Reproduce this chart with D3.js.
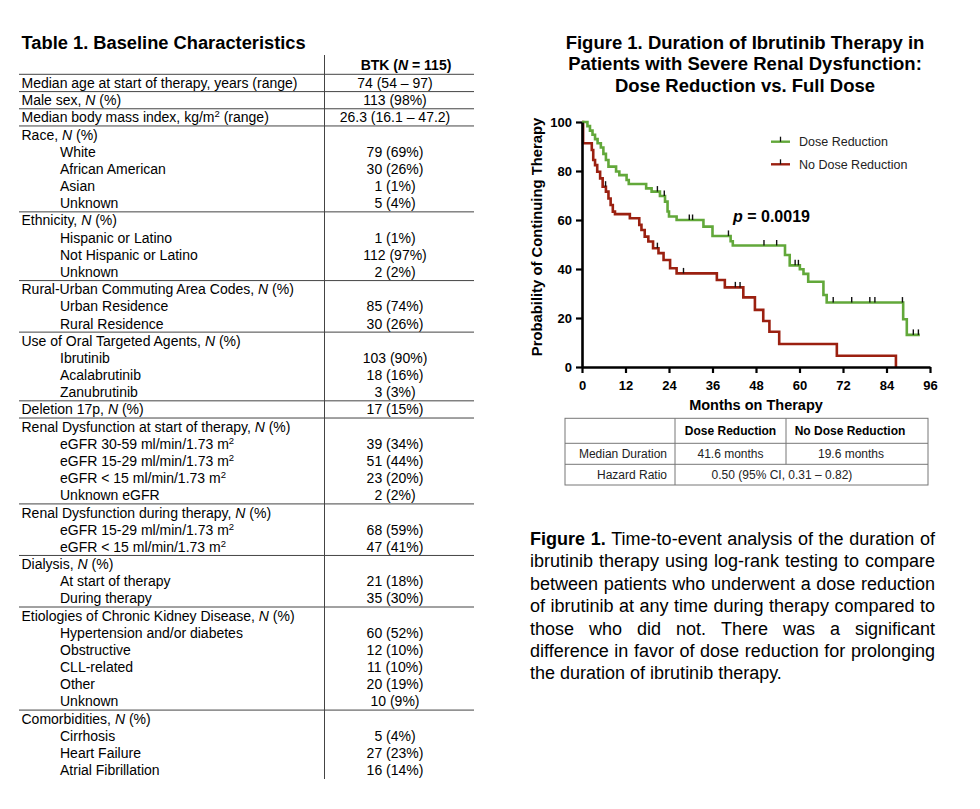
<!DOCTYPE html>
<html><head><meta charset="utf-8">
<script src="https://cdn.jsdelivr.net/npm/d3@7"></script>
<style>
body{margin:0;background:#fff}
svg{display:block;font-family:"Liberation Sans",Arial,Helvetica,sans-serif}
</style>
</head><body>
<svg id="c" width="980" height="809"></svg>
<script>
// ---------- DATA ----------
const tableTitle = "Table 1. Baseline Characteristics";
const tableHeader = "BTK (*N* = 115)";
const rowLabels = [
"Median age at start of therapy, years (range)",
"Male sex, *N* (%)",
"Median body mass index, kg/m^2 (range)",
"Race, *N* (%)",
"White","African American","Asian","Unknown",
"Ethnicity, *N* (%)",
"Hispanic or Latino","Not Hispanic or Latino","Unknown",
"Rural-Urban Commuting Area Codes, *N* (%)",
"Urban Residence","Rural Residence",
"Use of Oral Targeted Agents, *N* (%)",
"Ibrutinib","Acalabrutinib","Zanubrutinib",
"Deletion 17p, *N* (%)",
"Renal Dysfunction at start of therapy, *N* (%)",
"eGFR 30-59 ml/min/1.73 m^2","eGFR 15-29 ml/min/1.73 m^2","eGFR < 15 ml/min/1.73 m^2","Unknown eGFR",
"Renal Dysfunction during therapy, *N* (%)",
"eGFR 15-29 ml/min/1.73 m^2","eGFR < 15 ml/min/1.73 m^2",
"Dialysis, *N* (%)",
"At start of therapy","During therapy",
"Etiologies of Chronic Kidney Disease, *N* (%)",
"Hypertension and/or diabetes","Obstructive","CLL-related","Other","Unknown",
"Comorbidities, *N* (%)",
"Cirrhosis","Heart Failure","Atrial Fibrillation"
];
const rowValues = ["74 (54 – 97)","113 (98%)","26.3 (16.1 – 47.2)","","79 (69%)","30 (26%)","1 (1%)","5 (4%)",
"","1 (1%)","112 (97%)","2 (2%)","","85 (74%)","30 (26%)","","103 (90%)","18 (16%)","3 (3%)","17 (15%)",
"","39 (34%)","51 (44%)","23 (20%)","2 (2%)","","68 (59%)","47 (41%)","","21 (18%)","35 (30%)",
"","60 (52%)","12 (10%)","11 (10%)","20 (19%)","10 (9%)","","5 (4%)","27 (23%)","16 (14%)"];
const rowLevel = [0,0,0,0,1,1,1,1,0,1,1,1,0,1,1,0,1,1,1,0,0,1,1,1,1,0,1,1,0,1,1,0,1,1,1,1,1,0,1,1,1];
const ruleAfterRows = [0,1,2,7,11,14,18,19,24,27,30,36];

const figTitleLines = ["Figure 1. Duration of Ibrutinib Therapy in",
  "Patients with Severe Renal Dysfunction:",
  "Dose Reduction vs. Full Dose"];

const seriesNames = ["Dose Reduction","No Dose Reduction"];
const seriesColors = ["#62a83a","#9b2010"];
// Dose Reduction: step times (months) and survival (%) after each step
const drMonths   = [0,1.5,2.2,2.9,3.6,4.3,5.2,5.9,6.6,7.3,9.4,10.3,12.3,12.9,17.7,19.2,21.5,22.9,23.6,24.0,26.1,33.5,36.0,41.0,41.6,56.0,57.3,60.1,61.1,62.4,66.6,67.5,88.6,89.6,93.2];
const drSurvival = [100,98.3,96.5,94.8,93.0,91.3,89.6,87.0,84.5,81.8,79.8,78.3,76.3,74.7,72.9,71.6,69.8,67.5,63.5,61.4,60.0,57.3,53.5,51.3,49.6,45.7,41.5,39.9,38.0,34.8,29.4,26.3,19.5,13.1,13.1];
const drCensored = [20.8,22.7,29.6,30.5,40.4,50.2,53.7,58.8,59.7,69.3,74.4,79.4,80.8,88.4,91.4,92.8];
// No Dose Reduction
const ndrMonths   = [0,0.3,2.7,3.1,3.6,4.2,5.0,5.7,6.6,7.3,7.9,8.5,9.1,13.2,15.8,16.4,17.3,18.3,19.6,21.1,22.5,24.3,26.1,37.2,39.4,44.5,47.7,50.0,51.7,54.4,70.3,86.6];
const ndrSurvival = [100,91.3,88.6,84.5,82.4,79.7,77.0,73.6,71.6,68.8,66.1,63.4,62.4,60.7,58.0,55.9,53.2,51.2,48.5,46.5,43.7,40.3,38.2,35.5,32.5,28.4,23.3,18.8,14.4,9.4,4.6,0];
const ndrCensored = [6.5,20.8,28.0,42.3,43.6];

const xTicks = [0,12,24,36,48,60,72,84,96];
const yTicks = [0,20,40,60,80,100];
const xTitle = "Months on Therapy";
const yTitle = "Probability of Continuing Therapy";
const pText = "= 0.0019";

const statCols = ["","Dose Reduction","No Dose Reduction"];
const statRow1 = ["Median Duration","41.6 months","19.6 months"];
const statRow2 = ["Hazard Ratio","0.50 (95% CI, 0.31 – 0.82)"];

const captionLines = [
"Figure 1. Time-to-event analysis of the duration of",
"ibrutinib therapy using log-rank testing to compare",
"between patients who underwent a dose reduction",
"of ibrutinib at any time during therapy compared to",
"those who did not. There was a significant",
"difference in favor of dose reduction for prolonging",
"the duration of ibrutinib therapy."];
const captionBoldWords = 2;

// ---------- DRAW ----------
const svg = d3.select("#c");
const FONT = '"Liberation Sans",Arial,Helvetica,sans-serif';

function richText(sel, str, supSize){
  const parts = str.split(/(\*[^*]+\*|\^\d)/).filter(p=>p!=="");
  let pendingDy = 0;
  parts.forEach(p=>{
    let ts;
    if(p[0]==="*"){ ts = sel.append("tspan").style("font-style","italic").text(p.slice(1,-1)); }
    else if(p[0]==="^"){ ts = sel.append("tspan").style("font-size",supSize+"px").text(p.slice(1)); pendingDy -= 5; }
    else ts = sel.append("tspan").text(p);
    if(pendingDy!==0){ ts.attr("dy",pendingDy); pendingDy = (p[0]==="^") ? 5 : 0; }
  });
}

// Table
svg.append("text").attr("x",21.5).attr("y",48.5).style("font-size","18.3px").style("font-weight","bold").text(tableTitle);
const rowH = 17.18, row0 = 88;
const colX = 324.5, tLeft = 19, tRight = 474;
const hdr = svg.append("text").attr("x",406).attr("y",70).attr("text-anchor","middle").style("font-size","14px").style("font-weight","bold");
richText(hdr, tableHeader, 9);
svg.append("line").attr("x1",tLeft).attr("x2",tRight).attr("y1",74.3).attr("y2",74.3).attr("stroke","#444").attr("stroke-width",1);
svg.append("line").attr("x1",colX).attr("x2",colX).attr("y1",55).attr("y2",779).attr("stroke","#444").attr("stroke-width",1);
rowLabels.forEach((lab,i)=>{
  const by = row0 + i*rowH;
  const t = svg.append("text").attr("x", rowLevel[i] ? 60 : 21.5).attr("y",by).style("font-size","14px").attr("fill","#000");
  richText(t, lab, 9.5);
  if(rowValues[i]) svg.append("text").attr("x",395).attr("y",by).attr("text-anchor","middle").style("font-size","14px").text(rowValues[i]);
});
ruleAfterRows.forEach(i=>{
  const ly = row0 + i*rowH + 3.6;
  svg.append("line").attr("x1",tLeft).attr("x2",tRight).attr("y1",ly).attr("y2",ly).attr("stroke","#444").attr("stroke-width",1);
});

// Figure title
figTitleLines.forEach((l,i)=>{
  svg.append("text").attr("x",745).attr("y",48.5+i*21.7).attr("text-anchor","middle")
    .style("font-size","18.5px").style("font-weight","bold").text(l);
});

// KM chart
const x = d3.scaleLinear().domain([0,96]).range([582,930]);
const y = d3.scaleLinear().domain([0,100]).range([367,122]);
const g = svg.append("g");

const line = d3.line().x(d=>x(d[0])).y(d=>y(d[1])).curve(d3.curveStepAfter);
const series = [
  {m:drMonths, s:drSurvival, c:drCensored, col:seriesColors[0]},
  {m:ndrMonths, s:ndrSurvival, c:ndrCensored, col:seriesColors[1]}
];
function survAt(sr, t){ let v = sr.s[0]; sr.m.forEach((mm,i)=>{ if(mm<=t) v = sr.s[i]; }); return v; }
[series[1], series[0]].forEach(sr=>{
  const pts = sr.m.map((mm,i)=>[mm, sr.s[i]]);
  g.append("path").attr("d", line(pts)).attr("fill","none").attr("stroke",sr.col).attr("stroke-width",2.6).attr("stroke-linejoin","miter");
  g.selectAll(null).data(sr.c).enter().append("line")
    .attr("x1",d=>x(d)).attr("x2",d=>x(d)).attr("y1",d=>y(survAt(sr,d))).attr("y2",d=>y(survAt(sr,d))-5.5)
    .attr("stroke","#111").attr("stroke-width",1.4);
});

const yAx = g.append("g").attr("transform","translate(582,0)")
  .call(d3.axisLeft(y).tickValues(yTicks).tickSize(6).tickSizeOuter(0).tickPadding(4));
const xAx = g.append("g").attr("transform","translate(0,367)")
  .call(d3.axisBottom(x).tickValues(xTicks).tickSize(6).tickSizeOuter(0).tickPadding(8));
[yAx,xAx].forEach(a=>{
  a.attr("font-size",13).attr("font-family",FONT).attr("font-weight","bold");
  a.select(".domain").attr("stroke","#000").attr("stroke-width",2.6);
  a.selectAll(".tick line").attr("stroke","#000").attr("stroke-width",2.2);
  a.selectAll(".tick text").attr("fill","#000").style("font-size","13px").style("font-weight","bold").style("font-family",FONT);
});
g.append("text").attr("x",756).attr("y",410).attr("text-anchor","middle").style("font-size","14.5px").style("font-weight","bold").text(xTitle);
g.append("text").attr("transform","translate(542,237) rotate(-90)").attr("text-anchor","middle").style("font-size","14.8px").style("font-weight","bold").text(yTitle);

// legend
seriesNames.forEach((n,i)=>{
  const ly = 141.7 + i*22.6;
  g.append("line").attr("x1",771).attr("x2",790).attr("y1",ly).attr("y2",ly).attr("stroke",seriesColors[i]).attr("stroke-width",2.4);
  g.append("line").attr("x1",780.5).attr("x2",780.5).attr("y1",ly).attr("y2",ly-5).attr("stroke","#111").attr("stroke-width",1.3);
  g.append("text").attr("x",799).attr("y",ly+4.4).style("font-size","12.5px").attr("fill","#222").text(n);
});
// p value
const pt = g.append("text").attr("x",733).attr("y",222).style("font-size","16px").style("font-weight","bold");
pt.append("tspan").style("font-style","italic").text("p");
pt.append("tspan").text(" " + pText);

// stats table
const sx = [565,675,786,928], sy = [418.3,443.3,464.3,485];
const st = svg.append("g").attr("stroke","#777").attr("stroke-width",1).attr("fill","none");
st.append("rect").attr("x",sx[0]).attr("y",sy[0]).attr("width",sx[3]-sx[0]).attr("height",sy[3]-sy[0]);
[1,2].forEach(r=>st.append("line").attr("x1",sx[0]).attr("x2",sx[3]).attr("y1",sy[r]).attr("y2",sy[r]));
st.append("line").attr("x1",sx[1]).attr("x2",sx[1]).attr("y1",sy[0]).attr("y2",sy[3]);
st.append("line").attr("x1",sx[2]).attr("x2",sx[2]).attr("y1",sy[0]).attr("y2",sy[2]);
const tfs = "12px";
svg.append("text").attr("x",730.5).attr("y",435).attr("text-anchor","middle").style("font-size",tfs).style("font-weight","bold").text(statCols[1]);
svg.append("text").attr("x",850).attr("y",435).attr("text-anchor","middle").style("font-size",tfs).style("font-weight","bold").text(statCols[2]);
svg.append("text").attr("x",667).attr("y",458).attr("text-anchor","end").style("font-size",tfs).attr("fill","#222").text(statRow1[0]);
svg.append("text").attr("x",730.5).attr("y",458).attr("text-anchor","middle").style("font-size",tfs).attr("fill","#222").text(statRow1[1]);
svg.append("text").attr("x",851).attr("y",458).attr("text-anchor","middle").style("font-size",tfs).attr("fill","#222").text(statRow1[2]);
svg.append("text").attr("x",667).attr("y",479).attr("text-anchor","end").style("font-size",tfs).attr("fill","#222").text(statRow2[0]);
svg.append("text").attr("x",782).attr("y",479).attr("text-anchor","middle").style("font-size",tfs).attr("fill","#222").text(statRow2[1]);

// caption (justified)
const capX = 530, capW = 405, capY0 = 545, capLH = 22.4;
captionLines.forEach((ln,i)=>{
  const words = ln.split(" ");
  const t = svg.append("text").attr("y",capY0+i*capLH).style("font-size","18px").attr("fill","#000");
  const spans = words.map((w,j)=>t.append("tspan").style("font-weight",(i===0 && j<captionBoldWords)?"bold":"normal").text(w));
  const widths = spans.map(s=>s.node().getComputedTextLength());
  const last = i===captionLines.length-1;
  const gap = last ? 5 : (capW - d3.sum(widths))/(words.length-1);
  let cx = capX;
  spans.forEach((s,j)=>{ s.attr("x",cx); cx += widths[j]+gap; });
});
</script>
</body></html>
